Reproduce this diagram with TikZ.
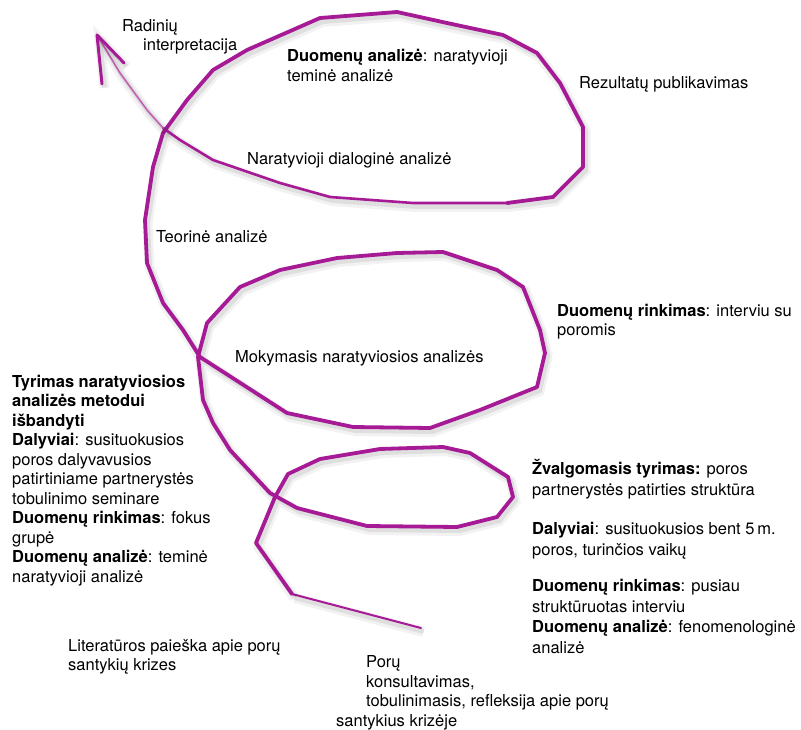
\documentclass[tikz,border=0pt]{standalone}
\usepackage{fontspec}
\setmainfont{TeX Gyre Heros}
\definecolor{spiralcol}{RGB}{166,26,150}
\tikzset{
  lbl/.style={anchor=base west, inner sep=0pt, align=left, font=\fontsize{16.5}{19.5}\selectfont},
  spiral/.style={draw=spiralcol, line join=round, line cap=round,
    preaction={draw=black, draw opacity=.05, line width=10pt, transform canvas={xshift=2.5pt,yshift=-4pt}},
    preaction={draw=black, draw opacity=.08, line width=5pt, transform canvas={xshift=2.5pt,yshift=-3.5pt}}},
}
\begin{document}
\begin{tikzpicture}[x=1pt, y=-1pt]
\useasboundingbox (0,0) rectangle (801,730);
% labels (placed at the baseline of their last line)
\node[lbl] (radiniai) at (122,51) {Radinių\\\hspace*{21pt}interpretacija};
\node[lbl] (analize1) at (287,81.5) {\textbf{Duomenų analizė}: naratyvioji\\teminė analizė};
\node[lbl] (publik) at (579,89) {Rezultatų publikavimas};
\node[lbl] (dialog) at (247,165) {Naratyvioji dialoginė analizė};
\node[lbl] (teorine) at (156,243) {Teorinė analizė};
\node[lbl] (rinkimas1) at (557,335.5) {\textbf{Duomenų rinkimas}: interviu su\\poromis};
\node[lbl] (mokymasis) at (235,362) {Mokymasis naratyviosios analizės};
\node[lbl] (tyrimas) at (12,582) {\textbf{Tyrimas naratyviosios}\\\textbf{analizės metodui}\\\textbf{išbandyti}\\
  \textbf{Dalyviai}: susituokusios\\poros dalyvavusios\\patirtiniame partnerystės\\tobulinimo seminare\\
  \textbf{Duomenų rinkimas}: fokus\\grupė\\\textbf{Duomenų analizė}: teminė\\naratyvioji analizė};
\node[lbl, font=\fontsize{16.5}{20.5}\selectfont] (zvalgomasis) at (532,653) {\textbf{Žvalgomasis tyrimas:} poros\\partnerystės patirties struktūra\\[19pt]
  \textbf{Dalyviai}: susituokusios bent 5\,m.\\poros, turinčios vaikų\\[16pt]
  \textbf{Duomenų rinkimas}: pusiau\\struktūruotas interviu\\\textbf{Duomenų analizė}: fenomenologinė\\analizė};
\node[lbl] (literatura) at (68,670.5) {Literatūros paieška apie porų\\santykių krizes};
\node[lbl] (konsult) at (336,726) {\hspace*{30pt}Porų\\\hspace*{30pt}konsultavimas,\\
  \hspace*{30pt}tobulinimasis, refleksija apie porų\\santykius krizėje};
% spiral points
\coordinate (s0) at (421,628);
\coordinate (s1) at (292,594);
\coordinate (s2) at (256,543);
\coordinate (s3) at (275,497);
\coordinate (s4) at (288,474);
\coordinate (s5) at (320,459);
\coordinate (s6) at (380,449);
\coordinate (s7) at (443,447);
\coordinate (s8) at (470,453);
\coordinate (s9) at (508,477);
\coordinate (s10) at (513,497);
\coordinate (s11) at (497,517);
\coordinate (s12) at (457,527);
\coordinate (s13) at (367,526);
\coordinate (s14) at (297,508);
\coordinate (s15) at (270,493);
\coordinate (s16) at (230,450);
\coordinate (s17) at (213,423);
\coordinate (s18) at (203,400);
\coordinate (s19) at (198,357);
\coordinate (s20) at (207,323);
\coordinate (s21) at (240,287);
\coordinate (s22) at (280,270);
\coordinate (s23) at (337,258);
\coordinate (s24) at (397,253);
\coordinate (s25) at (443,252);
\coordinate (s26) at (497,270);
\coordinate (s27) at (523,287);
\coordinate (s28) at (540,330);
\coordinate (s29) at (545,353);
\coordinate (s30) at (537,387);
\coordinate (s31) at (480,410);
\coordinate (s32) at (430,428);
\coordinate (s33) at (353,427);
\coordinate (s34) at (287,413);
\coordinate (s35) at (200,357);
\coordinate (s36) at (183,330);
\coordinate (s37) at (163,303);
\coordinate (s38) at (147,263);
\coordinate (s39) at (145,220);
\coordinate (s40) at (153,167);
\coordinate (s41) at (163,133);
\coordinate (s42) at (187,100);
\coordinate (s43) at (213,70);
\coordinate (s44) at (247,50);
\coordinate (s45) at (320,18);
\coordinate (s46) at (397,12);
\coordinate (s47) at (447,23);
\coordinate (s48) at (503,35);
\coordinate (s49) at (537,53);
\coordinate (s50) at (560,83);
\coordinate (s51) at (583,127);
\coordinate (s52) at (583,167);
\coordinate (s53) at (553,197);
\coordinate (s54) at (507,203);
\coordinate (s55) at (413,203);
\coordinate (s56) at (330,197);
\coordinate (s57) at (280,183);
\coordinate (s58) at (213,160);
\coordinate (s59) at (180,140);
\coordinate (s60) at (163,128);
\coordinate (s61) at (147,110);
\coordinate (s62) at (120,73);
\coordinate (tip) at (97,35);
\coordinate (arml) at (102,84);
\coordinate (armr) at (124,63);
% spiral
\draw[spiral, line width=2pt] (s1) -- (s0);
\draw[spiral, line width=3.8pt] (s1) -- (s2) -- (s3) -- (s4) -- (s5) -- (s6) -- (s7) -- (s8) -- (s9) -- (s10)
  -- (s11) -- (s12) -- (s13) -- (s14) -- (s15) -- (s16) -- (s17) -- (s18) -- (s19) -- (s20) -- (s21)
  -- (s22) -- (s23) -- (s24) -- (s25) -- (s26) -- (s27) -- (s28) -- (s29) -- (s30) -- (s31) -- (s32)
  -- (s33) -- (s34) -- (s35) -- (s36) -- (s37) -- (s38) -- (s39) -- (s40) -- (s41) -- (s42) -- (s43)
  -- (s44) -- (s45) -- (s46) -- (s47) -- (s48) -- (s49) -- (s50) -- (s51) -- (s52) -- (s53) -- (s54);
\draw[spiral, line width=2.6pt] (s54) -- (s55) -- (s56) -- (s57) -- (s58) -- (s59) -- (s60);
\draw[spiral, draw=spiralcol!70, line width=1.6pt] (s60) -- (s61) -- (s62) -- (tip);
\draw[spiral, line width=3pt] (arml) -- (tip) -- (armr);
\end{tikzpicture}
\end{document}
